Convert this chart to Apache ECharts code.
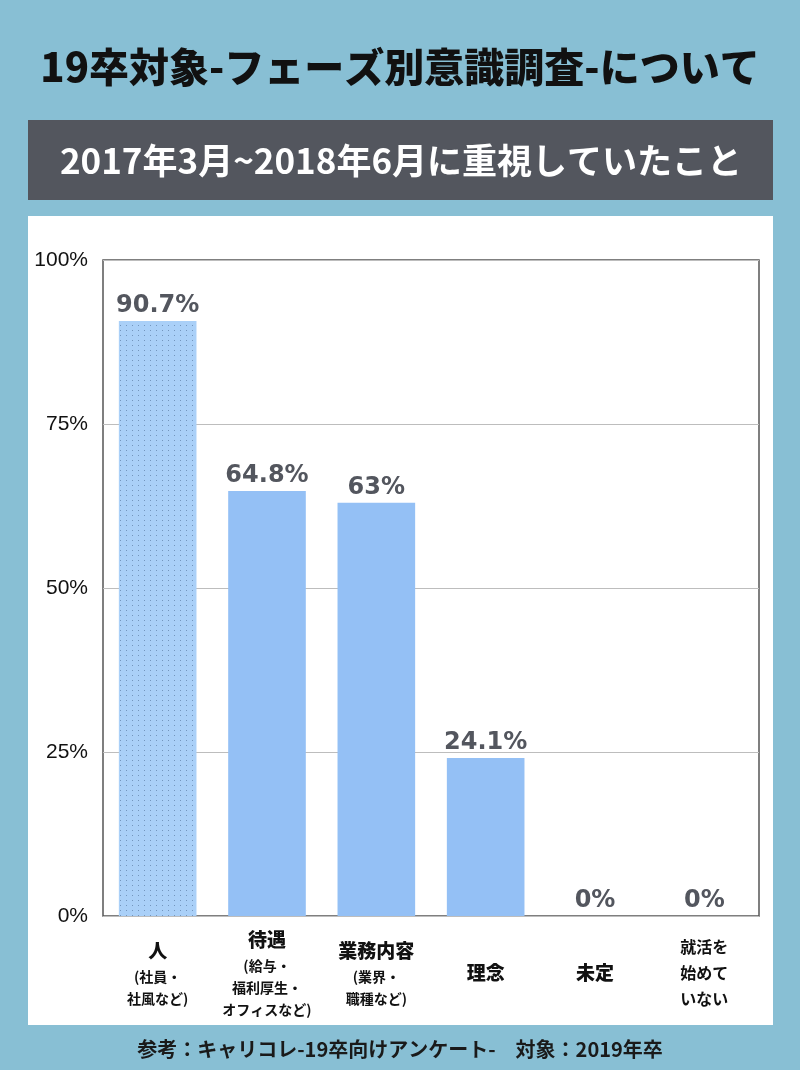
<!DOCTYPE html>
<html>
<head>
<meta charset="utf-8">
<script src="https://cdn.jsdelivr.net/npm/echarts@6/dist/echarts.min.js"></script>
<style>
  html, body { margin: 0; padding: 0; }
  #chart { width: 800px; height: 1070px; }
</style>
</head>
<body>
<div id="chart"></div>
<script>
// データ
var categories = ['人', '待遇', '業務内容', '理念', '未定', '就活を\n始めて\nいない'];
var subLabels = ['(社員・\n社風など)', '(給与・\n福利厚生・\nオフィスなど)', '(業界・\n職種など)', '', '', ''];
var values = [90.7, 64.8, 63, 24.1, 0, 0];
var yTicks = [0, 25, 50, 75, 100];

var mainTitle = '19卒対象-フェーズ別意識調査-について';
var subTitle = '2017年3月~2018年6月に重視していたこと';
var footer = '参考：キャリコレ-19卒向けアンケート-　対象：2019年卒';

var jp = '"Noto Sans CJK JP", sans-serif';

var myChart = echarts.init(document.getElementById('chart'));

var barData = values.map(function (v, i) {
    if (i === 0) {
        // 1本目だけドット模様
        return {
            value: v,
            itemStyle: {
                color: '#AAD0F8',
                decal: {
                    symbol: 'rect',
                    symbolSize: 1,
                    color: 'rgba(70,100,140,0.55)',
                    dashArrayX: [1, 5],
                    dashArrayY: [1, 4],
                    rotation: 0
                }
            }
        };
    }
    return v;
});

myChart.setOption({
    backgroundColor: '#88BFD4',
    animation: false,
    graphic: [
        { type: 'rect', z: -10, shape: { x: 28, y: 216, width: 745, height: 809 }, style: { fill: '#ffffff' } },
        { type: 'rect', z: -10, shape: { x: 28, y: 120, width: 745, height: 80 }, style: { fill: '#53565E' } },
        {
            type: 'text', x: 400, y: 67,
            style: { text: mainTitle, fill: '#111', font: '900 40px ' + jp, textAlign: 'center', textVerticalAlign: 'middle' }
        },
        {
            type: 'text', x: 401, y: 161,
            style: { text: subTitle, fill: '#fff', font: 'bold 35px ' + jp, textAlign: 'center', textVerticalAlign: 'middle' }
        },
        {
            type: 'text', x: 400, y: 1049,
            style: { text: footer, fill: '#1a1a1a', font: 'bold 20px ' + jp, textAlign: 'center', textVerticalAlign: 'middle' }
        }
    ],
    grid: {
        left: 103,
        top: 260,
        right: 41,
        bottom: 154,
        show: true,
        borderColor: '#555',
        borderWidth: 1.5
    },
    xAxis: {
        type: 'category',
        data: categories,
        axisLine: { show: false },
        axisTick: { show: false },
        axisLabel: {
            interval: 0,
            margin: 57,
            verticalAlign: 'middle',
            formatter: function (val, idx) {
                var sub = subLabels[idx];
                if (val.indexOf('\n') >= 0) {
                    return val.split('\n').map(function (s) { return '{c|' + s + '}'; }).join('\n');
                }
                var out = '{m|' + val + '}';
                if (sub) {
                    out += '\n' + sub.split('\n').map(function (s) { return '{s|' + s + '}'; }).join('\n');
                }
                return out;
            },
            rich: {
                m: { fontFamily: jp, fontWeight: 900, fontSize: 19, color: '#111', lineHeight: 30 },
                s: { fontFamily: jp, fontWeight: 'bold', fontSize: 14, color: '#111', lineHeight: 22 },
                c: { fontFamily: jp, fontWeight: 'bold', fontSize: 16, color: '#111', lineHeight: 26 }
            }
        }
    },
    yAxis: {
        type: 'value',
        min: yTicks[0],
        max: yTicks[yTicks.length - 1],
        interval: 25,
        axisLine: { show: false },
        axisTick: { show: false },
        axisLabel: {
            formatter: '{value}%',
            fontFamily: '"Liberation Sans", sans-serif',
            fontSize: 21,
            color: '#111',
            margin: 15
        },
        splitLine: { lineStyle: { color: '#bdbdbd', width: 1 } }
    },
    series: [
        {
            type: 'bar',
            data: barData,
            barWidth: '71%',
            itemStyle: { color: '#94C0F5' },
            label: {
                show: true,
                position: 'top',
                distance: 3,
                formatter: '{c}%',
                fontFamily: '"DejaVu Sans", sans-serif',
                fontWeight: 'bold',
                fontSize: 24,
                color: '#53565E'
            }
        }
    ]
});
</script>
</body>
</html>
